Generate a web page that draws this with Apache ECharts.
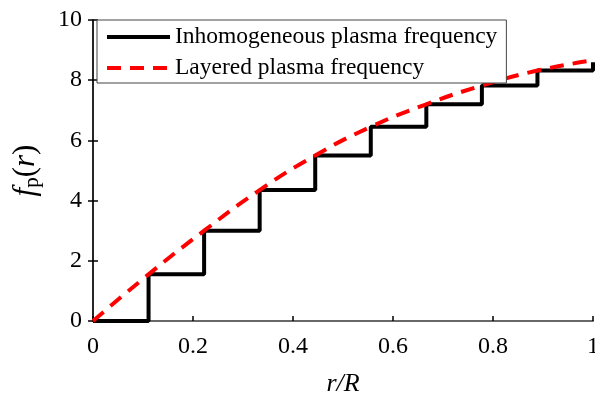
<!DOCTYPE html>
<html>
<head>
<meta charset="utf-8">
<script src="https://cdn.jsdelivr.net/npm/echarts@6/dist/echarts.min.js"></script>
<style>
  html, body { margin: 0; padding: 0; background: #fff; }
  #main { width: 595px; height: 397px; }
</style>
</head>
<body>
<div id="main"></div>
<script>
// 径向位置 r/R（分层边界 k/9）
const radius = [0, 1 / 9, 2 / 9, 3 / 9, 4 / 9, 5 / 9, 6 / 9, 7 / 9, 8 / 9, 1]
// 分层等离子体频率（阶梯）
const layeredValues = [0, 1.55, 3.0, 4.35, 5.5, 6.45, 7.2, 7.82, 8.32, 8.6]
// 非均匀等离子体频率（光滑曲线）
const smoothValues = [0, 1.55, 3.0, 4.35, 5.5, 6.45, 7.2, 7.82, 8.32, 8.66]
const xTicks = [0, 0.2, 0.4, 0.6, 0.8, 1]
const yTicks = [0, 2, 4, 6, 8, 10]

const font = '"Liberation Serif", "Times New Roman", serif'

const chart = echarts.init(document.getElementById('main'), null, { renderer: 'canvas' })

const option = {
  animation: false,
  textStyle: { fontFamily: font },
  grid: { left: 93, right: 2, top: 20, bottom: 76, outerBoundsMode: 'none', containLabel: false },
  legend: {
    left: 97,
    top: 20,
    orient: 'vertical',
    itemWidth: 63,
    itemHeight: 14,
    itemGap: 7,
    padding: [5, 9, 3, 8],
    backgroundColor: '#fff',
    borderColor: '#444',
    borderWidth: 1,
    itemStyle: { opacity: 0 },
    lineStyle: { width: 4 },
    textStyle: { fontFamily: font, fontSize: 23.5, color: '#000' },
    data: ['Inhomogeneous plasma frequency', 'Layered plasma frequency'],
  },
  xAxis: [
    {
      type: 'value',
      min: 0,
      max: 1,
      interval: 0.2,
      name: 'r/R',
      nameLocation: 'middle',
      nameGap: 50,
      nameTextStyle: { fontFamily: font, fontSize: 26, fontStyle: 'italic', color: '#000' },
      axisLine: { lineStyle: { color: '#000', width: 1.5 } },
      axisTick: { inside: true, length: 5, lineStyle: { color: '#000', width: 1.5 } },
      axisLabel: {
        fontFamily: font,
        fontSize: 24,
        color: '#000',
        margin: 14,
        formatter: v => (xTicks.includes(Math.round(v * 10) / 10) ? String(Math.round(v * 10) / 10) : ''),
      },
      splitLine: { show: false },
    },
    {
      type: 'value',
      position: 'top',
      min: 0,
      max: 1,
      interval: 0.2,
      axisLine: { show: true, lineStyle: { color: '#777', width: 1.5 } },
      axisTick: { show: false },
      axisLabel: { show: false },
      splitLine: { show: false },
    },
  ],
  yAxis: [
    {
      type: 'value',
      min: 0,
      max: 10,
      interval: 2,
      name: '{f|f}{sub|p}{n|(}{f|r}{n|)}',
      nameLocation: 'middle',
      nameGap: 50,
      nameRotate: 90,
      nameTextStyle: {
        rich: {
          f: { fontFamily: font, fontSize: 31, fontStyle: 'italic', color: '#000' },
          n: { fontFamily: font, fontSize: 31, color: '#000' },
          sub: { fontFamily: font, fontSize: 21, color: '#000', verticalAlign: 'bottom', padding: [14, 0, 0, 0] },
        },
      },
      axisLine: { show: true, lineStyle: { color: '#777', width: 1.5 } },
      axisTick: { inside: true, length: 5, lineStyle: { color: '#000', width: 1.5 } },
      axisLabel: {
        fontFamily: font,
        fontSize: 24,
        color: '#000',
        margin: 11,
        formatter: v => (yTicks.includes(v) ? String(v) : ''),
      },
      splitLine: { show: false },
    },
    {
      type: 'value',
      position: 'right',
      min: 0,
      max: 10,
      interval: 2,
      axisLine: { show: true, lineStyle: { color: '#000', width: 1.5 } },
      axisTick: { show: true, inside: true, length: 5, lineStyle: { color: '#000', width: 1.5 } },
      axisLabel: { show: false },
      splitLine: { show: false },
    },
  ],
  series: [
    {
      name: 'Inhomogeneous plasma frequency',
      type: 'line',
      step: 'end',
      symbol: 'none',
      data: radius.map((r, i) => [r, layeredValues[i]]),
      lineStyle: { color: '#000', width: 4 },
      itemStyle: { color: '#000' },
      z: 2,
    },
    {
      name: 'Layered plasma frequency',
      type: 'line',
      smooth: true,
      symbol: 'none',
      data: radius.map((r, i) => [r, smoothValues[i]]),
      lineStyle: { color: '#ff0000', width: 4, type: [14, 9] },
      itemStyle: { color: '#ff0000' },
      z: 3,
    },
  ],
}

chart.setOption(option)
</script>
</body>
</html>
